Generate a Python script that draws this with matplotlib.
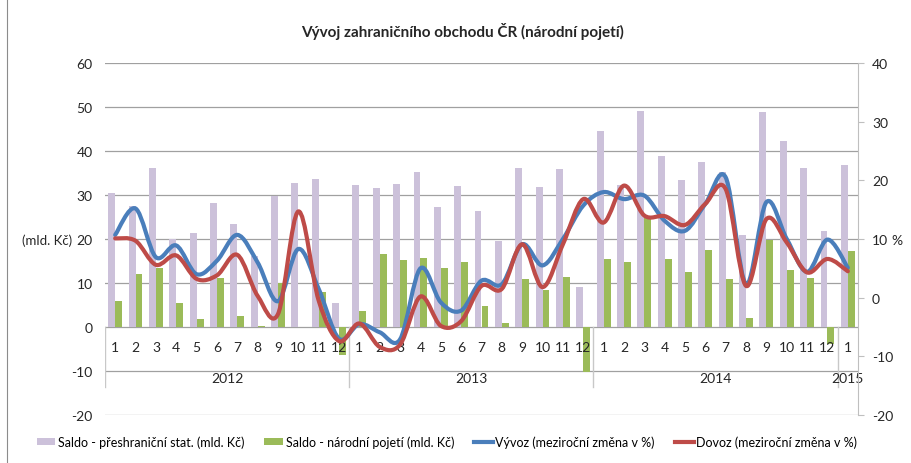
import numpy as np
import matplotlib
matplotlib.use('Agg')
import matplotlib.pyplot as plt
from matplotlib.path import Path
from matplotlib.patches import PathPatch, Patch
from matplotlib.lines import Line2D

plt.rcParams['font.family'] = ['Lato', 'DejaVu Sans']
plt.rcParams['axes.unicode_minus'] = False

years = ['2012', '2013', '2014', '2015']
months = [str(m) for m in range(1, 13)] * 3 + ['1']

# Saldo - preshranicni stat. (mld. Kc)
saldo_pres = [30.5, 27.4, 36.1, 19.9, 21.4, 28.2, 23.3, 16.1, 29.8, 32.7, 33.6, 5.4,
              32.2, 31.7, 32.5, 35.2, 27.3, 32.0, 26.3, 19.6, 36.1, 31.9, 35.9, 9.0,
              44.5, 32.2, 49.1, 38.8, 33.4, 37.4, 35.2, 21.0, 48.9, 42.3, 36.1, 21.8,
              36.9]
# Saldo - narodni pojeti (mld. Kc)
saldo_nar = [5.8, 12.1, 13.5, 5.5, 1.8, 11.1, 2.6, 0.2, 9.9, 0.0, 8.0, -6.3,
             3.6, 16.5, 15.2, 15.6, 13.3, 14.8, 4.8, 1.0, 10.9, 8.4, 11.3, -10.2,
             15.5, 14.7, 24.9, 15.5, 12.4, 17.5, 10.9, 2.1, 19.8, 13.0, 11.2, -3.9,
             17.2]
# Vyvoz, mezirocni zmena v %
vyvoz = [10.7, 15.2, 6.9, 8.9, 4.0, 6.3, 10.7, 6.0, -0.6, 8.3, 1.5, -7.0,
         -4.5, -5.9, -7.1, 5.0, -0.8, -2.2, 2.9, 2.3, 9.1, 5.5, 10.0, 15.7,
         18.0, 16.8, 17.4, 13.1, 11.4, 16.0, 20.5, 2.3, 16.3, 10.0, 4.4, 9.9,
         5.1]
# Dovoz, mezirocni zmena v %
dovoz = [10.1, 9.7, 5.6, 7.2, 3.2, 3.8, 7.3, 0.3, -2.8, 14.7, -0.5, -7.4,
         -4.4, -8.4, -8.0, 0.2, -4.8, -4.0, 2.0, 1.5, 9.1, 1.8, 9.1, 16.8,
         12.8, 19.1, 14.0, 13.9, 12.4, 16.0, 18.5, 2.0, 13.4, 9.4, 4.3, 6.6,
         4.5]

c_lav = '#CCC1DA'
c_green = '#9BBB59'
c_blue = '#4A7EBB'
c_red = '#BE4B48'
c_grid = '#A0A0A0'
c_text = '#262626'


def smooth_path(xs, ys):
    # bezier like the excel "smoothed line"
    n = len(xs)
    verts = [(xs[0], ys[0])]
    codes = [Path.MOVETO]
    for i in range(n - 1):
        a = max(i - 1, 0)
        b = min(i + 2, n - 1)
        c1 = (xs[i] + (xs[i + 1] - xs[a]) / 6, ys[i] + (ys[i + 1] - ys[a]) / 6)
        c2 = (xs[i + 1] - (xs[b] - xs[i]) / 6, ys[i + 1] - (ys[b] - ys[i]) / 6)
        verts += [c1, c2, (xs[i + 1], ys[i + 1])]
        codes += [Path.CURVE4] * 3
    return Path(verts, codes)


fig = plt.figure(figsize=(9.12, 4.64), dpi=100)
ax = fig.add_axes([105 / 912, 1 - 416 / 464, 753 / 912, 352 / 464])
x = np.arange(len(months))

ax.bar(x - 0.17, saldo_pres, width=0.34, color=c_lav, zorder=2)
ax.bar(x + 0.17, saldo_nar, width=0.34, color=c_green, zorder=2)

ax.set_xlim(-0.5, len(months) - 0.5)
ax.set_ylim(-20, 60)
ax.set_yticks(range(-20, 61, 10))
ax.set_xticks([])
ax.yaxis.grid(True, color=c_grid, lw=0.9)
ax.set_axisbelow(True)
ax.tick_params(axis='y', length=0, pad=9, labelsize=10, labelcolor=c_text)
for s in ax.spines.values():
    s.set_visible(False)

# category axis labels
for i, m in enumerate(months):
    ax.text(i, -4.6, m, ha='center', va='center', fontsize=10, color=c_text)
bounds = [-0.5, 11.5, 23.5, 35.5, 36.5]
for k, yr in enumerate(years):
    ax.text((bounds[k] + bounds[k + 1]) / 2, -11.6, yr, ha='center', va='center',
            fontsize=10, color=c_text)
for b in bounds[:-1]:
    ax.plot([b, b], [0, -13.6], color='#C8C8C8', lw=1, zorder=1)

ax2 = ax.twinx()
ax2.set_ylim(-20, 40)
ax2.set_yticks(range(-20, 41, 10))
ax2.set_xticks([])
for name, s in ax2.spines.items():
    s.set_visible(name == 'right')
ax2.spines['right'].set_color('#BFBFBF')
ax2.tick_params(axis='y', length=4, color='#BFBFBF', pad=6, labelsize=10, labelcolor=c_text)

for vals, col in ((vyvoz, c_blue), (dovoz, c_red)):
    ax2.add_patch(PathPatch(smooth_path(x, vals), fill=False, edgecolor=col, lw=3,
                            capstyle='round', joinstyle='round', zorder=3))

fig.text(0.507, 1 - 32 / 464, 'Vývoj zahraničního obchodu ČR (národní pojetí)',
         ha='center', va='center', fontsize=11, fontweight='bold', color=c_text)
fig.text(47 / 912, 1 - 241 / 464, '(mld. Kč)', ha='center', va='center', fontsize=9.5, color=c_text)
fig.text(897 / 912, 1 - 241 / 464, '%', ha='center', va='center', fontsize=10, color=c_text)

handles = [Patch(facecolor=c_lav), Patch(facecolor=c_green),
           Line2D([], [], color=c_blue, lw=3), Line2D([], [], color=c_red, lw=3)]
labels = ['Saldo - přeshraniční stat. (mld. Kč)', 'Saldo - národní pojetí (mld. Kč)',
          'Vývoz (meziroční změna v %)', 'Dovoz (meziroční změna v %)']
fig.legend(handles, labels, loc='center', bbox_to_anchor=(0.49, 1 - 443 / 464), ncol=4,
           frameon=False, fontsize=9, handlelength=1.5, handleheight=0.5,
           handletextpad=0.2, columnspacing=1.6)

fig.add_artist(Line2D([7 / 912, 7 / 912], [0, 1], color='#8C8C8C', lw=0.8))

fig.savefig('out.png', dpi=100)
